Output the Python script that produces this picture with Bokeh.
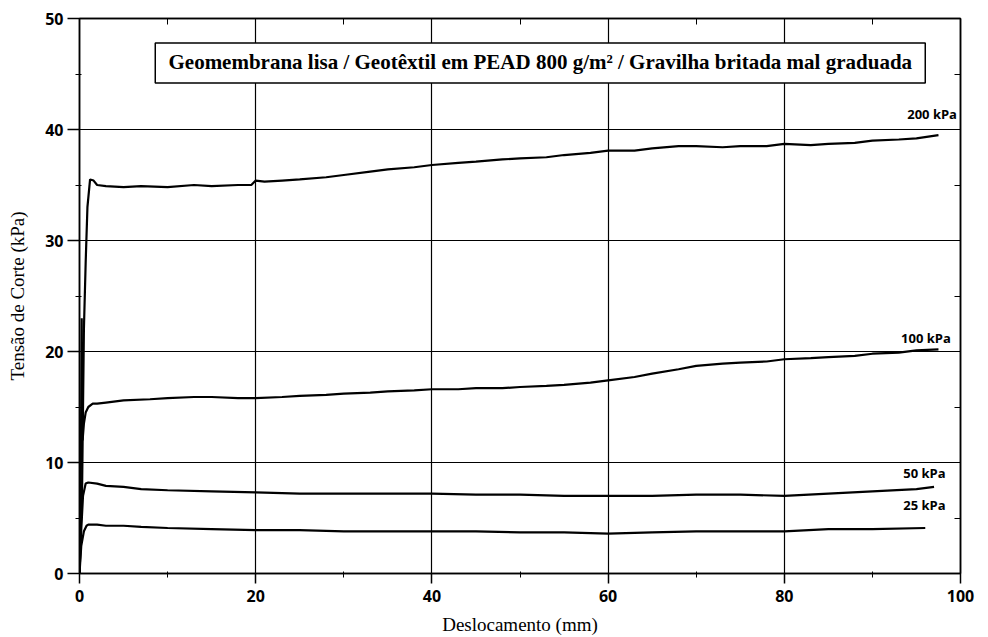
from bokeh.plotting import figure
from bokeh.models import Range1d, LinearAxis, Label, BoxAnnotation, FixedTicker
from bokeh.embed import file_html
from bokeh.resources import INLINE

# ---- data ----
x_200 = [0, 0.3, 0.5, 0.7, 0.9, 1.2, 1.6, 2, 3, 5, 7, 10, 13, 15, 18, 19.5, 20, 21, 23, 25, 28, 30, 33, 35, 38, 40, 43, 45, 48, 50, 53, 55, 58, 60, 63, 65, 68, 70, 73, 75, 78, 80, 83, 85, 88, 90, 93, 95, 97.5]
y_200 = [0, 8, 22, 28, 33, 35.5, 35.4, 35.0, 34.9, 34.8, 34.9, 34.8, 35.0, 34.9, 35.0, 35.0, 35.4, 35.3, 35.4, 35.5, 35.7, 35.9, 36.2, 36.4, 36.6, 36.8, 37.0, 37.1, 37.3, 37.4, 37.5, 37.7, 37.9, 38.1, 38.1, 38.3, 38.5, 38.5, 38.4, 38.5, 38.5, 38.7, 38.6, 38.7, 38.8, 39.0, 39.1, 39.2, 39.5]

x_100 = [0, 0.15, 0.25, 0.35, 0.5, 0.7, 1, 1.5, 2, 3, 5, 8, 10, 13, 15, 18, 20, 23, 25, 28, 30, 33, 35, 38, 40, 43, 45, 48, 50, 53, 55, 58, 60, 63, 65, 68, 70, 73, 75, 78, 80, 83, 85, 88, 90, 93, 95, 97.5]
y_100 = [0, 9, 23, 12, 13.5, 14.5, 15.0, 15.3, 15.3, 15.4, 15.6, 15.7, 15.8, 15.9, 15.9, 15.8, 15.8, 15.9, 16.0, 16.1, 16.2, 16.3, 16.4, 16.5, 16.6, 16.6, 16.7, 16.7, 16.8, 16.9, 17.0, 17.2, 17.4, 17.7, 18.0, 18.4, 18.7, 18.9, 19.0, 19.1, 19.3, 19.4, 19.5, 19.6, 19.8, 19.9, 20.1, 20.2]

x_50 = [0, 0.2, 0.4, 0.7, 1, 2, 3, 5, 7, 10, 15, 20, 25, 30, 35, 40, 45, 50, 55, 60, 65, 70, 75, 80, 85, 90, 95, 97]
y_50 = [0, 4, 7, 8.1, 8.2, 8.1, 7.9, 7.8, 7.6, 7.5, 7.4, 7.3, 7.2, 7.2, 7.2, 7.2, 7.1, 7.1, 7.0, 7.0, 7.0, 7.1, 7.1, 7.0, 7.2, 7.4, 7.6, 7.8]

x_25 = [0, 0.2, 0.5, 0.8, 1, 2, 3, 5, 7, 10, 15, 20, 25, 30, 35, 40, 45, 50, 55, 60, 65, 70, 75, 80, 85, 90, 96]
y_25 = [0, 2.5, 3.8, 4.3, 4.4, 4.4, 4.3, 4.3, 4.2, 4.1, 4.0, 3.9, 3.9, 3.8, 3.8, 3.8, 3.8, 3.7, 3.7, 3.6, 3.7, 3.8, 3.8, 3.8, 4.0, 4.0, 4.1]

series_labels = ["200 kPa", "100 kPa", "50 kPa", "25 kPa"]
label_x = [99.6, 98.9, 98.3, 98.3]
label_y = [40.6, 20.4, 8.2, 5.4]

x_ticks = [0, 20, 40, 60, 80, 100]
y_ticks = [0, 10, 20, 30, 40, 50]

title_text = "Geomembrana lisa / Geotêxtil em PEAD 800 g/m² / Gravilha britada mal graduada"

# ---- figure ----
p = figure(width=988, height=637, output_backend="svg", toolbar_location=None,
           x_range=Range1d(0, 100), y_range=Range1d(0, 50),
           min_border_left=79, min_border_right=28, min_border_top=18, min_border_bottom=63)
p.background_fill_color = "white"
p.border_fill_color = "white"
p.outline_line_color = "black"
p.outline_line_width = 1.5

for ax in (p.xaxis[0], p.yaxis[0]):
    ax.axis_line_color = "black"
    ax.axis_line_width = 1.5
    ax.major_tick_in = 0
    ax.minor_tick_in = 2
    ax.minor_tick_out = 4
    ax.major_tick_line_width = 1.5
    ax.major_label_text_font = "Open Sans"
    ax.major_label_text_font_style = "bold"
    ax.major_label_text_font_size = "16px"
    ax.major_label_text_color = "black"
    ax.axis_label_text_font = "Liberation Serif"
    ax.axis_label_text_font_style = "normal"
    ax.axis_label_text_color = "black"

p.xaxis.axis_label_text_font_size = "19px"
p.yaxis.axis_label_text_font_size = "19px"
p.xaxis.major_tick_out = 10
p.yaxis.major_tick_out = 12
p.xaxis.ticker = FixedTicker(ticks=x_ticks, minor_ticks=[10, 30, 50, 70, 90])
p.yaxis.ticker = FixedTicker(ticks=y_ticks, minor_ticks=[5, 15, 25, 35, 45])
p.xaxis.axis_label = "Deslocamento (mm)"
p.yaxis.axis_label = "Tensão de Corte (kPa)"
p.xaxis.axis_label_standoff = 9
p.yaxis.axis_label_standoff = 14
p.xaxis.major_label_standoff = 6
p.yaxis.major_label_standoff = 4

# top and right axes: ticks only
top = LinearAxis(ticker=FixedTicker(ticks=[10, 20, 30, 40, 50, 60, 70, 80, 90], minor_ticks=[]),
                 major_label_overrides={t: "" for t in [10, 20, 30, 40, 50, 60, 70, 80, 90]},
                 major_tick_in=6, major_tick_out=0,
                 axis_line_color="black", axis_line_width=1.5)
right = LinearAxis(ticker=FixedTicker(ticks=[5, 10, 15, 20, 25, 30, 35, 40, 45], minor_ticks=[]),
                   major_label_overrides={t: "" for t in [5, 10, 15, 20, 25, 30, 35, 40, 45]},
                   major_tick_in=6, major_tick_out=0,
                   axis_line_color="black", axis_line_width=1.5)
p.add_layout(top, "above")
p.add_layout(right, "right")

p.xgrid.ticker = FixedTicker(ticks=[20, 40, 60, 80])
p.ygrid.ticker = FixedTicker(ticks=[10, 20, 30, 40])
p.xgrid.grid_line_color = "black"
p.ygrid.grid_line_color = "black"
p.xgrid.grid_line_width = 1.2
p.ygrid.grid_line_width = 1.2

# curves
for xs, ys in ((x_200, y_200), (x_100, y_100), (x_50, y_50), (x_25, y_25)):
    p.line(xs, ys, line_color="black", line_width=2.2)

for t, lx, ly in zip(series_labels, label_x, label_y):
    p.add_layout(Label(x=lx, y=ly, text=t, text_align="right", text_baseline="bottom",
                       text_font="Open Sans", text_font_style="bold", text_font_size="13px",
                       text_color="black"))

# title box
p.add_layout(BoxAnnotation(left=8.6, right=96.0, bottom=44.2, top=47.8,
                           fill_color="white", fill_alpha=1.0,
                           line_color="black", line_alpha=1.0, line_width=1.5, level="overlay"))
p.add_layout(Label(x=52.3, y=46.1, text=title_text, text_align="center", text_baseline="middle",
                   text_font="Liberation Serif", text_font_style="bold", text_font_size="21px",
                   text_color="black", level="overlay"))

open("out.html", "w").write(file_html(p, INLINE))
